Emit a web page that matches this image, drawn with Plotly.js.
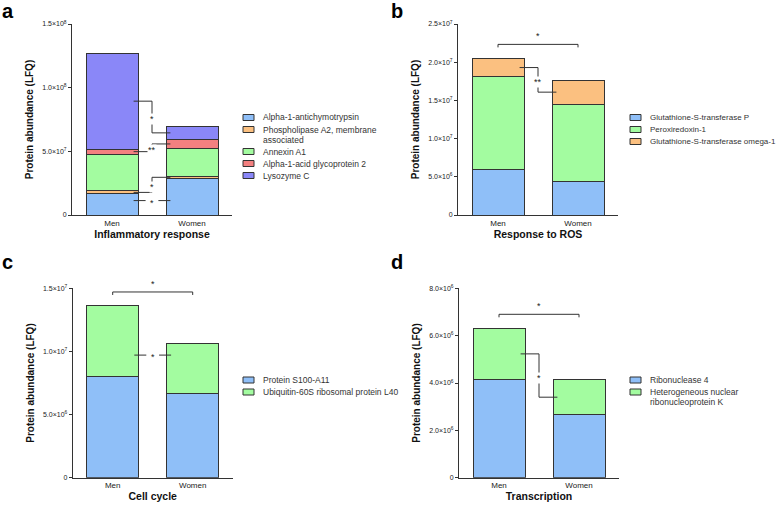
<!DOCTYPE html>
<html>
<head>
<meta charset="utf-8">
<script src="https://cdn.plot.ly/plotly-3.0.1.min.js"></script>
<style>html,body{margin:0;padding:0;background:#fff;}#chart{width:778px;height:505px;}</style>
</head>
<body>
<div id="chart"></div>
<script>
// ---------- data ----------
const groups = ['Men', 'Women'];

// a: Inflammatory response
const aNames = ['Alpha-1-antichymotrypsin', 'Phospholipase A2, membrane<br>associated', 'Annexin A1', 'Alpha-1-acid glycoprotein 2', 'Lysozyme C'];
const aMen   = [1.65e7, 2.5e6, 2.87e7, 4.1e6, 7.52e7];
const aWomen = [2.88e7, 1.6e6, 2.17e7, 7.4e6, 1.0e7];
const aTickVals = [0, 5e7, 1e8, 1.5e8];
const aTickText = ['0', '5.0×10<sup>7</sup>', '1.0×10<sup>8</sup>', '1.5×10<sup>8</sup>'];

// b: Response to ROS
const bNames = ['Glutathione-S-transferase P', 'Peroxiredoxin-1', 'Glutathione-S-transferase omega-1'];
const bMen   = [5.93e6, 1.217e7, 2.4e6];
const bWomen = [4.45e6, 1.004e7, 3.18e6];
const bTickVals = [0, 5e6, 1e7, 1.5e7, 2e7, 2.5e7];
const bTickText = ['0', '5.0×10<sup>6</sup>', '1.0×10<sup>7</sup>', '1.5×10<sup>7</sup>', '2.0×10<sup>7</sup>', '2.5×10<sup>7</sup>'];

// c: Cell cycle
const cNames = ['Protein S100-A11', 'Ubiquitin-60S ribosomal protein L40'];
const cMen   = [8.0e6, 5.6e6];
const cWomen = [6.63e6, 3.98e6];
const cTickVals = [0, 5e6, 1e7, 1.5e7];
const cTickText = ['0', '5.0×10<sup>6</sup>', '1.0×10<sup>7</sup>', '1.5×10<sup>7</sup>'];

// d: Transcription
const dNames = ['Ribonuclease 4', 'Heterogeneous nuclear<br>ribonucleoprotein K'];
const dMen   = [4.15e6, 2.16e6];
const dWomen = [2.67e6, 1.46e6];
const dTickVals = [0, 2e6, 4e6, 6e6, 8e6];
const dTickText = ['0', '2.0×10<sup>6</sup>', '4.0×10<sup>6</sup>', '6.0×10<sup>6</sup>', '8.0×10<sup>6</sup>'];

// significance marks: segment index, label, style
const aSig = [{seg: 0, label: '*', style: 'flat'}, {seg: 1, label: '*', style: 'step'}, {seg: 3, label: '**', style: 'step'}, {seg: 4, label: '*', style: 'step'}];
const bSig = [{seg: 2, label: '**', style: 'step'}, {label: '*', style: 'bracket'}];
const cSig = [{seg: 1, label: '*', style: 'flat'}, {label: '*', style: 'bracket'}];
const dSig = [{seg: 1, label: '*', style: 'step'}, {label: '*', style: 'bracket'}];

// ---------- styling ----------
const C = {blue: '#8fbff8', orange: '#fbc080', green: '#a3fca0', red: '#f38080', purple: '#8a87f8'};
const FONT = 'Liberation Sans, Arial, Helvetica, sans-serif';
const W = 778, H = 505;
const px = v => v / W;
const py = v => 1 - v / H;

const panels = [
  {letter: 'a', names: aNames, men: aMen, women: aWomen, colors: [C.blue, C.orange, C.green, C.red, C.purple],
   tv: aTickVals, tt: aTickText, xtitle: 'Inflammatory response', sig: aSig,
   box: [72, 232, 24, 215], leg: [243, 260.5, 117.5, 8.5], lab: [0, 11]},
  {letter: 'b', names: bNames, men: bMen, women: bWomen, colors: [C.blue, C.green, C.orange],
   tv: bTickVals, tt: bTickText, xtitle: 'Response to ROS', sig: bSig,
   box: [458, 618, 24, 215], leg: [630, 647.5, 117.5, 8], lab: [389, 11]},
  {letter: 'c', names: cNames, men: cMen, women: cWomen, colors: [C.blue, C.green],
   tv: cTickVals, tt: cTickText, xtitle: 'Cell cycle', sig: cSig,
   box: [72.7, 232.7, 288.3, 477.7], leg: [243, 260.5, 380, 8.5], lab: [0, 262]},
  {letter: 'd', names: dNames, men: dMen, women: dWomen, colors: [C.blue, C.green],
   tv: dTickVals, tt: dTickText, xtitle: 'Transcription', sig: dSig,
   box: [459, 619, 288.3, 477.7], leg: [630, 647.5, 380, 8.5], lab: [389, 262]}
];

const traces = [];
const shapes = [];
const annotations = [];
const layout = {
  width: W, height: H, margin: {l: 0, r: 0, t: 0, b: 0},
  paper_bgcolor: '#fff', plot_bgcolor: '#fff',
  barmode: 'stack', showlegend: false, bargap: 0.35,
  font: {family: FONT, color: '#222'}
};

const LINE = {color: '#333', width: 1};

panels.forEach((p, i) => {
  const n = i + 1;
  const xa = 'x' + (n === 1 ? '' : n), ya = 'y' + (n === 1 ? '' : n);
  const xk = 'xaxis' + (n === 1 ? '' : n), yk = 'yaxis' + (n === 1 ? '' : n);
  const ymax = p.tv[p.tv.length - 1];
  const [x0, x1, yt, yb] = p.box;

  p.names.forEach((nm, k) => {
    traces.push({
      type: 'bar', x: groups, y: [p.men[k], p.women[k]], name: nm.replace('<br>', ' '),
      xaxis: xa, yaxis: ya, width: 0.65,
      marker: {color: p.colors[k], line: {color: '#333', width: 1}},
      hoverinfo: 'name+y'
    });
  });

  layout[xk] = {
    domain: [px(x0), px(x1)], anchor: ya, type: 'category', range: [-0.5, 1.5],
    showline: true, linecolor: '#333', linewidth: 1, ticks: '', showgrid: false, zeroline: false,
    tickfont: {size: 8, family: FONT, color: '#222'}, fixedrange: true,
    title: {text: '<b>' + p.xtitle + '</b>', font: {size: 10.5, family: FONT, color: '#111'}, standoff: 3}
  };
  layout[yk] = {
    domain: [py(yb), py(yt)], anchor: xa, range: [0, ymax],
    showline: true, linecolor: '#333', linewidth: 1, ticks: 'outside', ticklen: 3, tickcolor: '#333',
    tickvals: p.tv, ticktext: p.tt, showgrid: false, zeroline: false,
    tickfont: {size: 7, family: FONT, color: '#222'}, fixedrange: true,
    title: {text: '<b>Protein abundance (LFQ)</b>', font: {size: 10, family: FONT, color: '#111'}, standoff: 6}
  };

  // cumulative stacks
  const cum = arr => { let s = 0; return arr.map(v => { const b = s; s += v; return [b, s]; }); };
  const cm = cum(p.men), cw = cum(p.women);
  const totMax = Math.max(cm[cm.length - 1][1], cw[cw.length - 1][1]);
  const unit = ymax / (yb - yt); // data per pixel

  p.sig.forEach(s => {
    if (s.style === 'bracket') {
      const yl = totMax + 14 * unit;
      shapes.push({type: 'path', xref: xa, yref: ya,
        path: `M0,${yl - 3 * unit} L0,${yl} L1,${yl} L1,${yl - 3 * unit}`, line: LINE});
      annotations.push({xref: xa, yref: ya, x: 0.5, y: yl + 1 * unit, yanchor: 'bottom', showarrow: false,
        text: s.label, font: {size: 9, family: FONT, color: '#222'}});
    } else {
      const ym = (cm[s.seg][0] + cm[s.seg][1]) / 2;
      const yw = (cw[s.seg][0] + cw[s.seg][1]) / 2;
      if (s.style === 'flat') {
        const yf = (ym + yw) / 2;
        shapes.push({type: 'line', xref: xa, yref: ya, x0: 0.27, x1: 0.42, y0: yf, y1: yf, line: LINE});
        shapes.push({type: 'line', xref: xa, yref: ya, x0: 0.58, x1: 0.73, y0: yf, y1: yf, line: LINE});
        annotations.push({xref: xa, yref: ya, x: 0.5, y: yf, yanchor: 'middle', yshift: -2, showarrow: false,
          text: s.label, font: {size: 9, family: FONT, color: '#222'}});
      } else {
        shapes.push({type: 'path', xref: xa, yref: ya,
          path: `M0.27,${ym} L0.5,${ym} L0.5,${yw} L0.73,${yw}`, line: LINE});
        annotations.push({xref: xa, yref: ya, x: 0.5, y: (ym + yw) / 2, yanchor: 'middle', showarrow: false,
          text: s.label, bgcolor: '#fff', borderpad: 0, yshift: -2,
          font: {size: 9, family: FONT, color: '#222'}});
      }
    }
  });

  // legend (manual, compact GraphPad style)
  const [bx, tx, ly0, lfs] = p.leg;
  let ly = ly0;
  p.names.forEach((nm, k) => {
    shapes.push({type: 'rect', xref: 'paper', yref: 'paper',
      x0: px(bx), x1: px(bx + 11), y0: py(ly + 3), y1: py(ly - 3),
      fillcolor: p.colors[k], line: {color: '#333', width: 1}});
    const parts = nm.split('<br>');
    parts.forEach((part, j) => {
      annotations.push({xref: 'paper', yref: 'paper', x: px(tx), y: py(ly), xanchor: 'left', yanchor: 'middle',
        showarrow: false, text: part, font: {size: lfs, family: FONT, color: '#333'}});
      if (j < parts.length - 1) ly += 10;
    });
    ly += 12;
  });

  // panel letter
  annotations.push({xref: 'paper', yref: 'paper', x: px(p.lab[0]), y: py(p.lab[1]), xanchor: 'left', yanchor: 'middle',
    showarrow: false, text: '<b>' + p.letter + '</b>', font: {size: 20, family: FONT, color: '#000'}});
});

layout.shapes = shapes;
layout.annotations = annotations;

Plotly.newPlot('chart', traces, layout, {displayModeBar: false, staticPlot: true});
</script>
</body>
</html>
